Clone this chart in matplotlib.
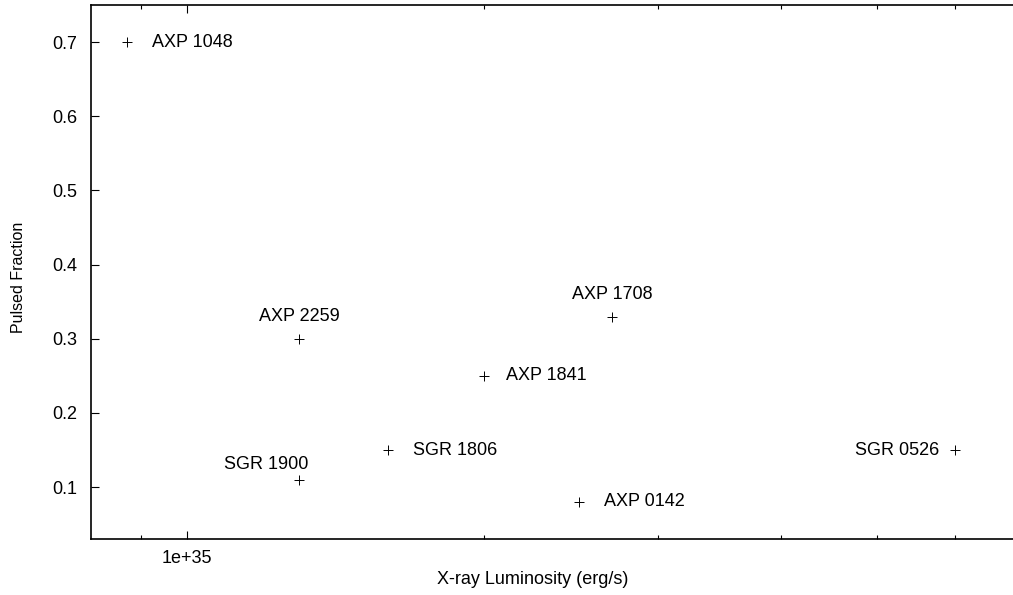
import numpy as np
import matplotlib.pyplot as plt
from matplotlib.ticker import FixedLocator, FixedFormatter, NullFormatter

plt.rcParams['font.family'] = ['Liberation Sans', 'DejaVu Sans']

# sources: luminosity (erg/s) and pulsed fraction
names = ['AXP 1048', 'AXP 2259', 'SGR 1900', 'SGR 1806', 'AXP 1841',
         'AXP 1708', 'AXP 0142', 'SGR 0526']
lum = [8.7e34, 1.3e35, 1.3e35, 1.6e35, 2.0e35, 2.7e35, 2.5e35, 6.0e35]
pulsed = [0.70, 0.30, 0.11, 0.15, 0.25, 0.33, 0.08, 0.15]

xticks_major = [1e35]
xticks_minor = [9e34, 2e35, 3e35, 4e35, 5e35, 6e35]
yticks = [0.1, 0.2, 0.3, 0.4, 0.5, 0.6, 0.7]

# label placement per source: offset (points), ha, va
label_pos = {
    'AXP 1048': ((18, 0), 'left', 'center'),
    'AXP 2259': ((0, 10), 'center', 'bottom'),
    'SGR 1900': ((-24, 5), 'center', 'bottom'),
    'SGR 1806': ((18, 0), 'left', 'center'),
    'AXP 1841': ((16, 0), 'left', 'center'),
    'AXP 0142': ((18, 0), 'left', 'center'),
    'AXP 1708': ((0, 10), 'center', 'bottom'),
    'SGR 0526': ((-11, 0), 'right', 'center'),
}

fig = plt.figure(figsize=(10.13, 5.95), dpi=100)
ax = fig.add_axes([0.0898, 0.0941, 0.918, 0.8975])

ax.plot(lum, pulsed, '+', color='black', markersize=6.5, mew=0.7)

for n, x, y in zip(names, lum, pulsed):
    off, ha, va = label_pos[n]
    ax.annotate(n, (x, y), xytext=off, textcoords='offset points',
                ha=ha, va=va, fontsize=13)

ax.set_xscale('log')
ax.set_xlim(8e34, 7e35)
ax.set_ylim(0.03, 0.75)

ax.xaxis.set_major_locator(FixedLocator(xticks_major))
ax.xaxis.set_major_formatter(FixedFormatter(['1e+35']))
ax.xaxis.set_minor_locator(FixedLocator(xticks_minor))
ax.xaxis.set_minor_formatter(NullFormatter())
ax.set_yticks(yticks)
ax.set_yticklabels([f'{v:.1f}' for v in yticks])

ax.tick_params(which='major', direction='in', length=6, width=0.8,
               top=True, right=True, labelsize=13)
ax.tick_params(axis='y', which='major', pad=10)
ax.tick_params(axis='x', which='major', pad=8)
ax.tick_params(which='minor', direction='in', length=3, width=0.8,
               top=True, right=True)
for s in ax.spines.values():
    s.set_linewidth(1.2)

ax.set_xlabel('X-ray Luminosity (erg/s)', fontsize=13)
ax.xaxis.set_label_coords(0.475, -0.06)
ax.set_ylabel('Pulsed Fraction', fontsize=11.5)
ax.yaxis.set_label_coords(-0.070, 0.49)

fig.savefig('out.png', dpi=100)
